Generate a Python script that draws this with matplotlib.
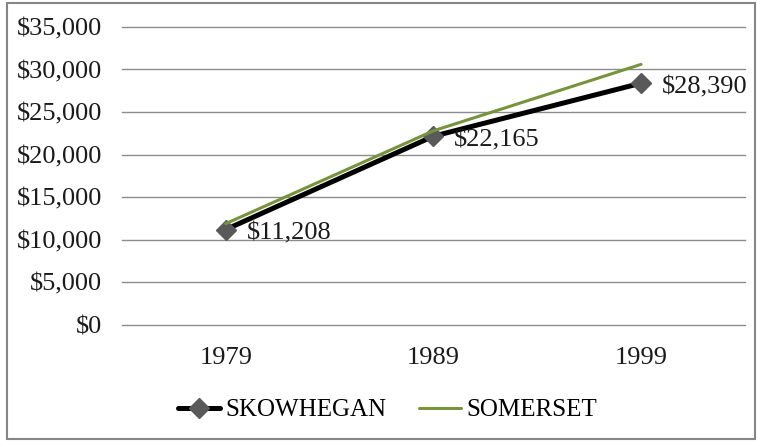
import matplotlib.pyplot as plt
from matplotlib.patches import Rectangle
from matplotlib.ticker import FuncFormatter

years = ["1979", "1989", "1999"]
skowhegan = [11208, 22165, 28390]
somerset = [11900, 22800, 30600]
series_names = ["SKOWHEGAN", "SOMERSET"]

plt.rcParams["font.family"] = ["Liberation Serif", "DejaVu Serif"]

fig = plt.figure(figsize=(7.57, 4.41), dpi=100)
ax = fig.add_axes([0.161, 0.263, 0.823, 0.676])

x = [i + 0.5 for i in range(len(years))]

ax.plot(x, skowhegan, color="black", lw=3.6, marker="D", ms=10,
        mfc="#595959", mec="#595959", label=series_names[0], zorder=3,
        solid_capstyle="round")
ax.plot(x, somerset, color="#77933C", lw=2.2, label=series_names[1],
        zorder=4, solid_capstyle="round")

for xi, v in zip(x, skowhegan):
    ax.annotate(f"${v:,}", (xi, v), xytext=(15, -3), textcoords="offset points",
                ha="left", va="center", fontsize=19, color="#1a1a1a", zorder=5)

ax.set_xlim(0, 3)
ax.set_ylim(0, 35000)
ax.set_yticks(range(0, 35001, 5000))
ax.yaxis.set_major_formatter(FuncFormatter(lambda v, p: f"${int(v):,}"))
ax.set_xticks(x, labels=years)
ax.tick_params(axis="both", length=0, labelsize=19, colors="#1a1a1a")
ax.tick_params(axis="x", pad=16)
ax.tick_params(axis="y", pad=14)
ax.grid(axis="y", color="#8c8c8c", lw=1)
for gl in ax.get_ygridlines():
    gl.set_clip_on(False)
ax.set_axisbelow(True)
for s in ax.spines.values():
    s.set_visible(False)

fig.legend(loc="center", bbox_to_anchor=(0.512, 0.07), ncol=2, frameon=False,
           fontsize=18, handlelength=1.7, handletextpad=0.2, columnspacing=1.3)

fig.patches.append(Rectangle((0.009, 0.005), 0.989, 0.988, transform=fig.transFigure,
                             fill=False, edgecolor="#868686", lw=1.5))

fig.savefig("out.png", dpi=100)
